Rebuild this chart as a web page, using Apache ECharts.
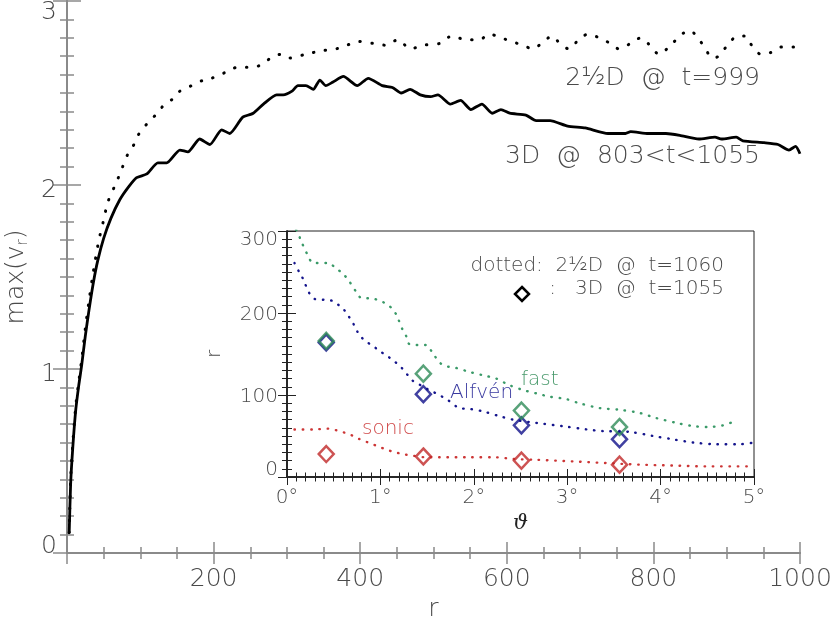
<!DOCTYPE html>
<html>
<head>
<meta charset="utf-8">
<script src="https://cdn.jsdelivr.net/npm/echarts@6/dist/echarts.min.js"></script>
<style>
  html, body { margin: 0; padding: 0; background: #fff; }
  #chart { width: 830px; height: 624px; }
</style>
</head>
<body>
<div id="chart"></div>
<script>
// main plot: max(v_r) vs r
const rSolid = [3, 5, 8, 12, 16, 20, 25, 30, 36, 42, 50, 60, 72, 84, 95, 109, 124, 136, 154, 165, 181, 195, 211,
  222, 236, 240, 254, 268, 286, 295, 307, 315, 326, 336, 345, 353, 363, 377, 396, 411, 430, 444, 456,
  468, 482, 496, 506, 523, 537, 551, 566, 580, 592, 604, 626, 640, 659, 683, 707, 738, 762, 769, 793,
  817, 836, 862, 884, 893, 913, 922, 951, 970, 985, 994, 1000];
const vSolid = [0.11, 0.38, 0.58, 0.78, 0.91, 1.02, 1.18, 1.32, 1.47, 1.59, 1.71, 1.82, 1.92, 1.99, 2.04, 2.06, 2.12, 2.12, 2.19, 2.18, 2.25, 2.22, 2.30,
  2.28, 2.35, 2.37, 2.39, 2.44, 2.49, 2.49, 2.51, 2.54, 2.54, 2.52, 2.57, 2.54, 2.56, 2.59, 2.54, 2.58, 2.54, 2.53, 2.50,
  2.52, 2.49, 2.48, 2.49, 2.44, 2.46, 2.41, 2.44, 2.39, 2.41, 2.39, 2.38, 2.35, 2.35, 2.32, 2.31, 2.28, 2.28, 2.29, 2.28,
  2.28, 2.27, 2.25, 2.26, 2.25, 2.26, 2.24, 2.23, 2.22, 2.19, 2.21, 2.17];

const rDotted = [3, 5, 8, 12, 16, 20, 25, 30, 36, 43, 50, 56, 68, 75, 82, 90, 97, 104, 111, 118, 125, 131, 145,
  154, 170, 186, 197, 215, 233, 245, 254, 268, 281, 293, 304, 325, 348, 367, 382, 398, 417, 434, 452,
  468, 487, 509, 525, 544, 563, 576, 592, 607, 621, 636, 650, 662, 674, 685, 700, 712, 726, 741, 753,
  769, 783, 795, 808, 821, 839, 850, 862, 870, 880, 889, 903, 915, 925, 934, 947, 960, 975, 992, 1000];
const vDotted = [0.11, 0.40, 0.60, 0.80, 0.93, 1.05, 1.22, 1.37, 1.53, 1.69, 1.81, 1.91, 2.02, 2.09, 2.16, 2.21, 2.27, 2.31, 2.34, 2.37, 2.39, 2.43, 2.47,
  2.51, 2.54, 2.57, 2.58, 2.61, 2.64, 2.64, 2.64, 2.66, 2.70, 2.71, 2.69, 2.71, 2.73, 2.74, 2.76, 2.78, 2.77, 2.76, 2.79,
  2.74, 2.76, 2.77, 2.81, 2.79, 2.79, 2.82, 2.80, 2.78, 2.76, 2.74, 2.78, 2.81, 2.76, 2.74, 2.80, 2.82, 2.80, 2.77, 2.74,
  2.77, 2.80, 2.76, 2.71, 2.75, 2.82, 2.84, 2.79, 2.75, 2.69, 2.70, 2.77, 2.81, 2.81, 2.76, 2.71, 2.72, 2.75, 2.75, 2.73];

// inset: r vs theta (degrees), dotted = 2.5D, diamonds = 3D
const thFast = [0.05, 0.12, 0.15, 0.22, 0.28, 0.44, 0.53, 0.60, 0.67, 0.74, 0.80, 0.89, 0.97, 1.05, 1.12, 1.17, 1.24, 1.28, 1.31, 1.40,
  1.49, 1.56, 1.64, 1.71, 1.81, 1.96, 2.10, 2.24, 2.38, 2.53, 2.67, 2.81, 2.99, 3.13, 3.35, 3.56, 3.78, 3.95, 4.17, 4.35,
  4.51, 4.67, 4.77];
const rFast = [310, 297, 288, 271, 261, 261, 254, 248, 238, 226, 218, 218, 216, 212, 206, 198, 179, 171, 162, 161,
  161, 151, 139, 135, 133, 128, 124, 120, 112, 106, 102, 98, 95, 90, 84, 82, 78, 72, 66, 62,
  61, 63, 67];
const thAlfven = [0.08, 0.13, 0.17, 0.24, 0.30, 0.40, 0.48, 0.55, 0.61, 0.66, 0.71, 0.75, 0.80, 0.85, 0.93, 1.00, 1.08, 1.15, 1.22, 1.28,
  1.34, 1.40, 1.49, 1.56, 1.63, 1.72, 1.85, 1.96, 2.10, 2.28, 2.42, 2.60, 2.74, 2.95, 3.21, 3.38, 3.67, 3.92, 4.13, 4.35,
  4.60, 4.85, 5.0];
const rAlfven = [261, 250, 242, 224, 217, 216, 215, 210, 204, 196, 187, 178, 170, 165, 159, 153, 147, 141, 134, 126,
  118, 114, 108, 104, 100, 94, 84, 83, 80, 74, 70, 67, 65, 62, 58, 56, 55, 50, 46, 42,
  40, 40, 42];
const thSonic = [0.08, 0.28, 0.44, 0.53, 0.62, 0.71, 0.78, 0.87, 0.96, 1.05, 1.13, 1.24, 1.35, 1.49, 1.63, 1.96, 2.24, 2.42, 2.67, 3.06,
  3.42, 3.78, 4.13, 4.49, 4.95];
const rSonic = [58, 58, 59, 57, 54, 50, 46, 42, 38, 34, 31, 28, 26, 24, 24, 24, 24, 22, 21, 19,
  17, 15, 14, 13, 13];

const th3D = [0.42, 1.46, 2.51, 3.56];
const rFast3D = [166, 126, 81, 61];
const rAlfven3D = [164, 101, 63, 46];
const rSonic3D = [28, 25, 20, 15];

const zip = (xs, ys) => xs.map((x, i) => [x, ys[i]]);

const FONT = "'DejaVu Sans', sans-serif";
const TXT = "#4a4a4a";
const MAIN_AX = "#8a8a8a";
const INSET_AX = "#222";

const chart = echarts.init(document.getElementById("chart"), null, { renderer: "canvas" });

const tickLabel = (size, rich) => ({
  fontFamily: FONT,
  fontWeight: 200,
  fontSize: size,
  color: TXT,
  rich: rich,
});

const mainYRich = {
  t: { fontFamily: FONT, fontWeight: 200, fontSize: 25, color: TXT, padding: [22, 0, 0, 0] },
  m: { fontFamily: FONT, fontWeight: 200, fontSize: 25, color: TXT, padding: [10, 0, 0, 0] },
  b: { fontFamily: FONT, fontWeight: 200, fontSize: 25, color: TXT, padding: [0, 0, 14, 0] },
};
const insetYRich = {
  t: { fontFamily: FONT, fontWeight: 200, fontSize: 20, color: TXT, padding: [18, 0, 0, 0] },
  m: { fontFamily: FONT, fontWeight: 200, fontSize: 20, color: TXT, padding: [4, 0, 0, 0] },
  b: { fontFamily: FONT, fontWeight: 200, fontSize: 20, color: TXT, padding: [0, 0, 14, 0] },
};

const option = {
  backgroundColor: "#fff",
  animation: false,
  grid: [
    { left: 67, right: 30, top: 1, bottom: 71, show: false, outerBoundsMode: "none", containLabel: false },
    {
      left: 287, right: 76, top: 231, bottom: 147, outerBoundsMode: "none", containLabel: false,
      show: true, backgroundColor: "#fff", borderColor: INSET_AX, borderWidth: 1, z: 5,
    },
  ],
  xAxis: [
    {
      gridIndex: 0, type: "value", min: 0, max: 1000, interval: 200,
      name: "r", nameLocation: "middle", nameGap: 34,
      nameTextStyle: { fontFamily: FONT, fontWeight: 200, fontSize: 25, color: TXT },
      axisLine: { lineStyle: { color: MAIN_AX, width: 2 } },
      axisTick: { inside: true, length: 11, lineStyle: { color: MAIN_AX, width: 1.5 } },
      minorTick: { show: true, splitNumber: 4, length: 6, lineStyle: { color: MAIN_AX, width: 1.5 } },
      axisLabel: Object.assign(tickLabel(25), { margin: 14, formatter: (v) => (v === 0 ? "" : String(v)) }),
      splitLine: { show: false },
    },
    {
      gridIndex: 0, type: "value", min: 0, max: 1000, interval: 200, position: "top",
      axisLine: { lineStyle: { color: MAIN_AX, width: 2 } },
      axisTick: { inside: true, length: 11, lineStyle: { color: MAIN_AX, width: 1.5 } },
      minorTick: { show: true, splitNumber: 4, length: 6, lineStyle: { color: MAIN_AX, width: 1.5 } },
      axisLabel: { show: false },
      splitLine: { show: false },
    },
    {
      gridIndex: 1, type: "value", min: 0, max: 5, interval: 1,
      name: "ϑ", nameLocation: "middle", nameGap: 36,
      nameTextStyle: { fontFamily: "'DejaVu Serif', serif", fontStyle: "italic", fontSize: 21, color: "#222" },
      axisLine: { lineStyle: { color: INSET_AX, width: 1.5 } },
      axisTick: { inside: true, length: 8, lineStyle: { color: INSET_AX, width: 1 } },
      minorTick: { show: true, splitNumber: 10, length: 4.5, lineStyle: { color: INSET_AX, width: 1 } },
      axisLabel: Object.assign(tickLabel(20), { margin: 11, formatter: "{value}°" }),
      splitLine: { show: false },
      z: 6,
    },
    {
      gridIndex: 1, type: "value", min: 0, max: 5, interval: 1, position: "top",
      axisLine: { lineStyle: { color: INSET_AX, width: 1.5 } },
      axisTick: { inside: true, length: 8, lineStyle: { color: INSET_AX, width: 1 } },
      minorTick: { show: true, splitNumber: 10, length: 4.5, lineStyle: { color: INSET_AX, width: 1 } },
      axisLabel: { show: false },
      splitLine: { show: false },
      z: 6,
    },
  ],
  yAxis: [
    {
      gridIndex: 0, type: "value", min: 0, max: 3, interval: 1,
      name: "max(v{s|r})", nameLocation: "middle", nameGap: 32,
      nameTextStyle: {
        fontFamily: FONT, fontWeight: 200, fontSize: 25, color: TXT,
        rich: { s: { fontFamily: FONT, fontWeight: 200, fontSize: 15, color: TXT, padding: [12, 0, 0, 0] } },
      },
      axisLine: { lineStyle: { color: MAIN_AX, width: 2 } },
      axisTick: { inside: true, length: 14, lineStyle: { color: MAIN_AX, width: 1.5 } },
      minorTick: { show: true, splitNumber: 10, length: 7, lineStyle: { color: MAIN_AX, width: 1.5 } },
      axisLabel: Object.assign(tickLabel(25, mainYRich), {
        margin: 10,
        formatter: (v) => (v === 3 ? "{t|3}" : v === 0 ? "{b|0}" : "{m|" + v + "}"),
      }),
      splitLine: { show: false },
    },
    {
      gridIndex: 0, type: "value", min: 0, max: 3, interval: 1, position: "right",
      axisLine: { lineStyle: { color: MAIN_AX, width: 2 } },
      axisTick: { inside: true, length: 14, lineStyle: { color: MAIN_AX, width: 1.5 } },
      minorTick: { show: true, splitNumber: 10, length: 7, lineStyle: { color: MAIN_AX, width: 1.5 } },
      axisLabel: { show: false },
      splitLine: { show: false },
    },
    {
      gridIndex: 1, type: "value", min: 0, max: 300, interval: 100,
      name: "r", nameLocation: "middle", nameGap: 62,
      nameTextStyle: { fontFamily: FONT, fontWeight: 200, fontSize: 20, color: TXT },
      axisLine: { lineStyle: { color: INSET_AX, width: 1.5 } },
      axisTick: { inside: true, length: 9, lineStyle: { color: INSET_AX, width: 1 } },
      minorTick: { show: true, splitNumber: 10, length: 5, lineStyle: { color: INSET_AX, width: 1 } },
      axisLabel: Object.assign(tickLabel(20, insetYRich), {
        margin: 9,
        formatter: (v) => (v === 300 ? "{t|300}" : v === 0 ? "{b|0}" : "{m|" + v + "}"),
      }),
      splitLine: { show: false },
      z: 6,
    },
    {
      gridIndex: 1, type: "value", min: 0, max: 300, interval: 100, position: "right",
      axisLine: { lineStyle: { color: INSET_AX, width: 1.5 } },
      axisTick: { inside: true, length: 9, lineStyle: { color: INSET_AX, width: 1 } },
      minorTick: { show: true, splitNumber: 10, length: 5, lineStyle: { color: INSET_AX, width: 1 } },
      axisLabel: { show: false },
      splitLine: { show: false },
      z: 6,
    },
  ],
  series: [
    {
      name: "2½D @ t=999", type: "line", xAxisIndex: 0, yAxisIndex: 0,
      data: zip(rDotted, vDotted), symbol: "none", smooth: 0.3,
      lineStyle: { color: "#000", width: 3, type: [0.5, 11.5], cap: "round" },
    },
    {
      name: "3D @ 803<t<1055", type: "line", xAxisIndex: 0, yAxisIndex: 0,
      data: zip(rSolid, vSolid), symbol: "none", smooth: 0.2,
      lineStyle: { color: "#000", width: 2.8 },
    },
    {
      name: "fast", type: "line", xAxisIndex: 2, yAxisIndex: 2, z: 7,
      data: zip(thFast, rFast), symbol: "none", smooth: 0.3,
      lineStyle: { color: "#3a9a68", width: 2.4, type: [0.5, 7.8], cap: "round" },
    },
    {
      name: "Alfvén", type: "line", xAxisIndex: 2, yAxisIndex: 2, z: 7,
      data: zip(thAlfven, rAlfven), symbol: "none", smooth: 0.3,
      lineStyle: { color: "#14148c", width: 2.4, type: [0.5, 7.8], cap: "round" },
    },
    {
      name: "sonic", type: "line", xAxisIndex: 2, yAxisIndex: 2, z: 7,
      data: zip(thSonic, rSonic), symbol: "none", smooth: 0.3,
      lineStyle: { color: "#cc3535", width: 2.4, type: [0.5, 7.8], cap: "round" },
    },
    {
      name: "Alfvén 3D", type: "scatter", xAxisIndex: 2, yAxisIndex: 2, z: 8,
      data: zip(th3D, rAlfven3D), symbol: "diamond", symbolSize: [15, 16],
      itemStyle: { color: "rgba(0,0,0,0)", borderColor: "#10108a", borderWidth: 2.5 },
    },
    {
      name: "fast 3D", type: "scatter", xAxisIndex: 2, yAxisIndex: 2, z: 8,
      data: zip(th3D, rFast3D), symbol: "diamond", symbolSize: [15, 16],
      itemStyle: { color: "rgba(0,0,0,0)", borderColor: "#2e8b57", borderWidth: 2.5 },
    },
    {
      name: "sonic 3D", type: "scatter", xAxisIndex: 2, yAxisIndex: 2, z: 8,
      data: zip(th3D, rSonic3D), symbol: "diamond", symbolSize: [15, 16],
      itemStyle: { color: "rgba(0,0,0,0)", borderColor: "#c02828", borderWidth: 2.5 },
    },
  ],
  graphic: [
    { type: "text", right: 70, top: 66, z: 10,
      style: { text: "2½D  @  t=999", font: "200 25px " + FONT, fill: TXT } },
    { type: "text", right: 70, top: 144, z: 10,
      style: { text: "3D  @  803<t<1055", font: "200 25px " + FONT, fill: TXT } },
    { type: "text", right: 106, top: 256, z: 10,
      style: { text: "dotted:  2½D  @  t=1060", font: "200 20px " + FONT, fill: TXT } },
    { type: "text", right: 106, top: 279, z: 10,
      style: { text: ":   3D  @  t=1055", font: "200 20px " + FONT, fill: TXT } },
    { type: "polygon", x: 522, y: 294, z: 10,
      shape: { points: [[0, -7], [7, 0], [0, 7], [-7, 0]] },
      style: { fill: "none", stroke: "#000", lineWidth: 2.5 } },
    { type: "text", left: 521, top: 370, z: 10,
      style: { text: "fast", font: "200 20px " + FONT, fill: "#4a9a6c" } },
    { type: "text", left: 450, top: 383, z: 10,
      style: { text: "Alfvén", font: "200 20px " + FONT, fill: "#3a3aa0" } },
    { type: "text", left: 362, top: 419, z: 10,
      style: { text: "sonic", font: "200 20px " + FONT, fill: "#d04a4a" } },
  ],
};

chart.setOption(option);
window.addEventListener("resize", () => chart.resize());
</script>
</body>
</html>
